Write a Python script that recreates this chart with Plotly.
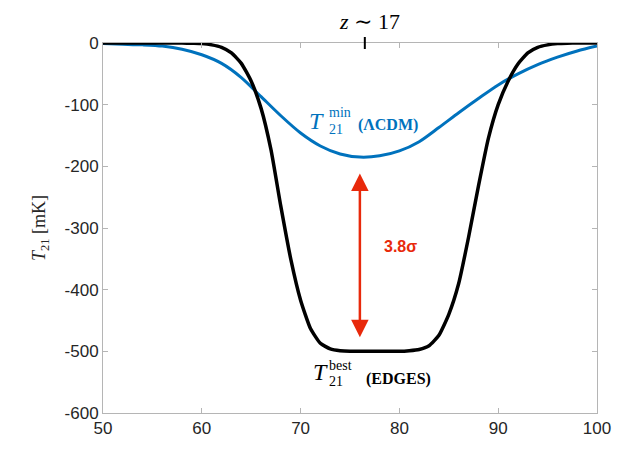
import plotly.graph_objects as go

# Frequency grid [MHz] and 21-cm brightness temperatures [mK]
nu_lcdm = [50, 52, 54, 56, 58, 60, 62, 64, 66, 68, 70, 72, 74, 76, 78, 80,
           82, 84, 86, 88, 90, 92, 94, 96, 98, 100]
t21_lcdm = [-1, -2, -3, -5, -10, -19, -33, -56, -87, -118, -146, -167, -180,
            -185, -183, -175, -160, -137, -113, -90, -68, -50, -35, -23, -13, -5]

nu_edges = [50, 54, 56, 58, 59, 60, 61, 62, 63, 64, 65, 66, 67, 68, 69, 70,
            71, 72, 73, 74, 75, 77.5, 80, 81, 82, 83, 84, 85, 86, 87, 88, 89,
            90, 91, 92, 93, 94, 95, 96, 97, 98, 100]
t21_edges = [0, 0, 0, 0, -0.5, -1, -3, -7, -16, -33, -62, -106, -173, -265,
             -350, -417, -463, -487, -496, -499, -500, -500, -500, -499, -497,
             -491, -474, -440, -390, -315, -232, -155, -100, -62, -34, -16, -7,
             -3, -1, -0.3, 0, 0]

x_ticks = [50, 60, 70, 80, 90, 100]
y_ticks = [0, -100, -200, -300, -400, -500, -600]
y_ticktext = ["0", "-100", "-200", "-300", "-400", "-500", "-600"]

nu_z17 = 76.5            # frequency marked on the top axis
arrow_top, arrow_bot = -209, -477
arrow_nu = 76.0

BLUE = "#0072BD"
RED = "#E8290B"
AXIS = "#b5b5b5"
TXT = "#262626"
SERIF = "Liberation Serif, Times New Roman, serif"
SANS = "Liberation Sans, Arial, Helvetica, sans-serif"

W, H = 625, 459
L, R, T, B = 103, 28, 43, 46
PW, PH = W - L - R, H - T - B


def px(xp):
    return (xp - L) / PW


def py(yp):
    return (H - B - yp) / PH


def label(xp, yp, text, size, color, family=SERIF, xanchor="left", **kw):
    d = dict(x=px(xp), y=py(yp), xref="paper", yref="paper", text=text,
             showarrow=False, xanchor=xanchor, yanchor="middle",
             font=dict(family=family, size=size, color=color))
    d.update(kw)
    return d


fig = go.Figure()
fig.add_trace(go.Scatter(x=nu_lcdm, y=t21_lcdm, mode="lines",
                         line=dict(color=BLUE, width=3, shape="spline",
                                   smoothing=0.8),
                         hoverinfo="skip"))
fig.add_trace(go.Scatter(x=nu_edges, y=t21_edges, mode="lines",
                         line=dict(color="black", width=3.5, shape="spline",
                                   smoothing=0.5),
                         hoverinfo="skip"))

axis_common = dict(showgrid=False, zeroline=False, showline=True,
                   linecolor=AXIS, linewidth=1, mirror="ticks",
                   ticks="inside", ticklen=5, tickcolor=AXIS, tickwidth=1,
                   tickfont=dict(family=SANS, size=17, color=TXT))

fig.update_xaxes(range=[50, 100], tickvals=x_ticks, **axis_common)
fig.update_yaxes(range=[-600, 0], tickvals=y_ticks, ticktext=y_ticktext,
                 **axis_common)

ann = [
    # top-axis redshift marker
    label(369, 22, '<i>z</i> <span style="font-family:DejaVu Serif">∼</span> 17',
          22, "black", xanchor="center"),
    # axis titles
    label(40, 228, "<i>T</i><sub>21</sub> [mK]", 18, TXT, xanchor="center",
          textangle=-90),
    label(352, 466, "<i>ν</i>", 22, TXT, xanchor="center"),
    # LambdaCDM label
    label(307, 121, "<i>T</i>", 24, BLUE),
    label(327, 112, "min", 14, BLUE),
    label(327, 129, "21", 14, BLUE),
    label(356, 125, "<b>(ΛCDM)</b>", 16, BLUE),
    # EDGES label
    label(311, 372, "<i>T</i>", 24, "black"),
    label(327, 365, "best", 14, "black"),
    label(327, 381, "21", 14, "black"),
    label(364, 379, "<b>(EDGES)</b>", 16, "black"),
    # significance
    label(400, 247, "<b>3.8σ</b>", 16, RED, family=SANS, xanchor="center"),
]

# significance arrow
ann.append(dict(x=arrow_nu, y=arrow_bot, ax=arrow_nu, ay=arrow_top,
                xref="x", yref="y", axref="x", ayref="y", text="",
                showarrow=True, arrowside="end+start", arrowhead=2,
                arrowsize=1.4, arrowwidth=2.5, arrowcolor=RED))

fig.update_layout(
    width=W, height=H,
    margin=dict(l=L, r=R, t=T, b=B),
    paper_bgcolor="white", plot_bgcolor="white",
    showlegend=False,
    annotations=ann,
    shapes=[dict(type="line", xref="x", yref="paper", x0=nu_z17, x1=nu_z17,
                 y0=1 - 6 / PH, y1=1 + 6 / PH,
                 line=dict(color="black", width=2))],
)

fig.write_html("out.html")
